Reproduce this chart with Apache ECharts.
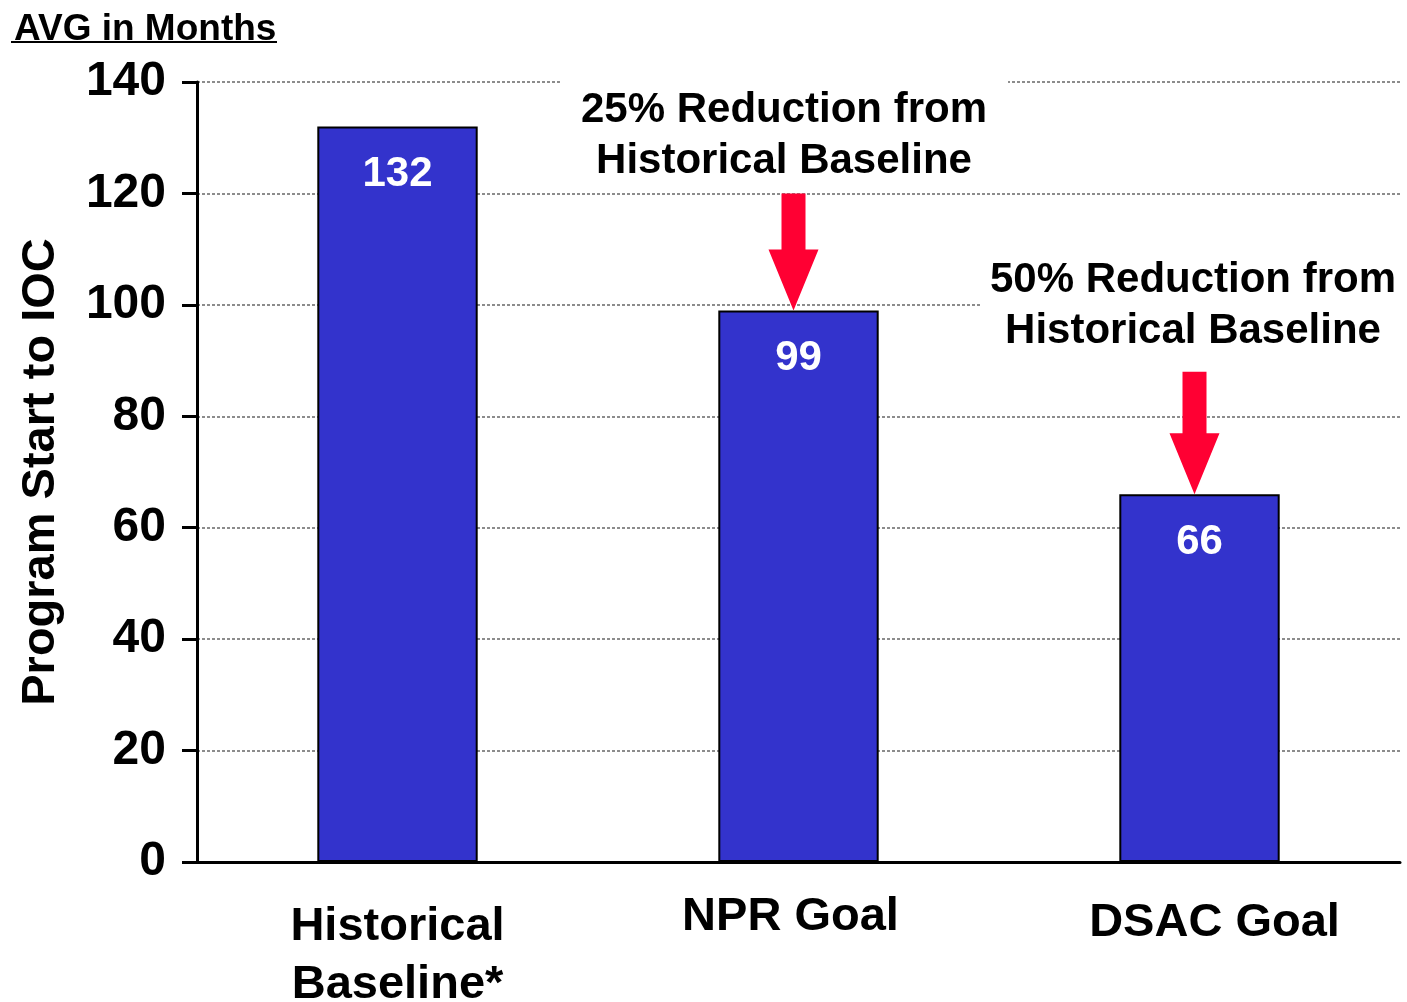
<!DOCTYPE html>
<html>
<head>
<meta charset="utf-8">
<title>Program Start to IOC</title>
<script src="https://cdn.jsdelivr.net/npm/echarts@6/dist/echarts.min.js"></script>
<style>
  html, body { margin: 0; padding: 0; background: #fff; }
  #chart { width: 1407px; height: 1002px; }
</style>
</head>
<body>
<div id="chart"></div>
<script>
// data
var categories = ['Historical\nBaseline*', 'NPR Goal', 'DSAC Goal'];
var months = [132, 99, 66];
var yTicks = [0, 20, 40, 60, 80, 100, 120, 140];
// arrows: [category index, start value, tip value]
var arrows = [[1, 120, 99], [2, 88, 66]];
var notes = ['25% Reduction from\nHistorical Baseline', '50% Reduction from\nHistorical Baseline'];

var FONT = '"Liberation Sans", Arial, sans-serif';

// small nudges of the category labels, as in the original slide
var labelPad = [[10, 0, 0, 0], [0, 16, 0, 0], [6, 0, 0, 30]];

var myChart = echarts.init(document.getElementById('chart'));

var option = {
  animation: false,
  backgroundColor: '#fff',
  title: {
    text: 'AVG in Months',
    left: 9,
    top: 6,
    textStyle: { fontFamily: FONT, fontWeight: 'bold', fontSize: 37, color: '#000' }
  },
  grid: { left: 197, right: 7, top: 82, bottom: 140, outerBoundsMode: 'none', containLabel: false },
  xAxis: {
    type: 'category',
    data: categories.map(function (c, i) {
      return { value: c, textStyle: { padding: labelPad[i] } };
    }),
    axisLine: { lineStyle: { color: '#000', width: 3 } },
    axisTick: { show: false },
    axisLabel: {
      margin: 26,
      fontFamily: FONT, fontWeight: 'bold', fontSize: 47, lineHeight: 58, color: '#000'
    }
  },
  yAxis: {
    type: 'value',
    min: yTicks[0],
    max: yTicks[yTicks.length - 1],
    interval: 20,
    name: 'Program Start to IOC',
    nameLocation: 'middle',
    nameRotate: 90,
    nameGap: 132,
    nameTextStyle: { fontFamily: FONT, fontWeight: 'bold', fontSize: 47, color: '#000' },
    axisLine: { show: true, lineStyle: { color: '#000', width: 3 } },
    axisTick: { show: true, length: 15, lineStyle: { color: '#000', width: 3 } },
    axisLabel: {
      margin: 31,
      padding: [0, 0, 6, 0],
      fontFamily: FONT, fontWeight: 'bold', fontSize: 48, color: '#000'
    },
    splitLine: { lineStyle: { color: '#8c8c8c', width: 2, type: [3, 2] } }
  },
  series: [
    {
      type: 'bar',
      data: months,
      barWidth: '40%',
      itemStyle: { color: '#3333CC', borderColor: '#000', borderWidth: 2 },
      label: {
        show: true,
        position: 'insideTop',
        distance: 27,
        fontFamily: FONT, fontWeight: 'bold', fontSize: 42, color: '#fff'
      }
    },
    {
      type: 'custom',
      data: arrows,
      z: 5,
      renderItem: function (params, api) {
        var start = api.coord([api.value(0), api.value(1)]);
        var tip = api.coord([api.value(0), api.value(2)]);
        var x = tip[0] - 5, head = 61, shaft = 12, wing = 25;
        return {
          type: 'polygon',
          shape: {
            points: [
              [x - shaft, start[1]], [x + shaft, start[1]],
              [x + shaft, tip[1] - head], [x + wing, tip[1] - head],
              [x, tip[1]],
              [x - wing, tip[1] - head], [x - shaft, tip[1] - head]
            ]
          },
          style: { fill: '#FF0033' }
        };
      }
    }
  ],
  graphic: [
    {
      type: 'line', z: 100,
      shape: { x1: 11, y1: 42, x2: 277, y2: 42 },
      style: { stroke: '#000', lineWidth: 2 }
    },
    {
      type: 'text', z: 100, x: 784, y: 80,
      style: {
        text: notes[0], align: 'center', verticalAlign: 'top',
        font: 'bold 42px ' + FONT, lineHeight: 51, fill: '#000',
        backgroundColor: '#fff', padding: [5, 21, 2, 21]
      }
    },
    {
      type: 'text', z: 100, x: 1193, y: 252,
      style: {
        text: notes[1], align: 'center', verticalAlign: 'top',
        font: 'bold 42px ' + FONT, lineHeight: 51, fill: '#000',
        backgroundColor: '#fff', padding: [3, 8, 2, 8]
      }
    }
  ]
};

myChart.setOption(option);
</script>
</body>
</html>
